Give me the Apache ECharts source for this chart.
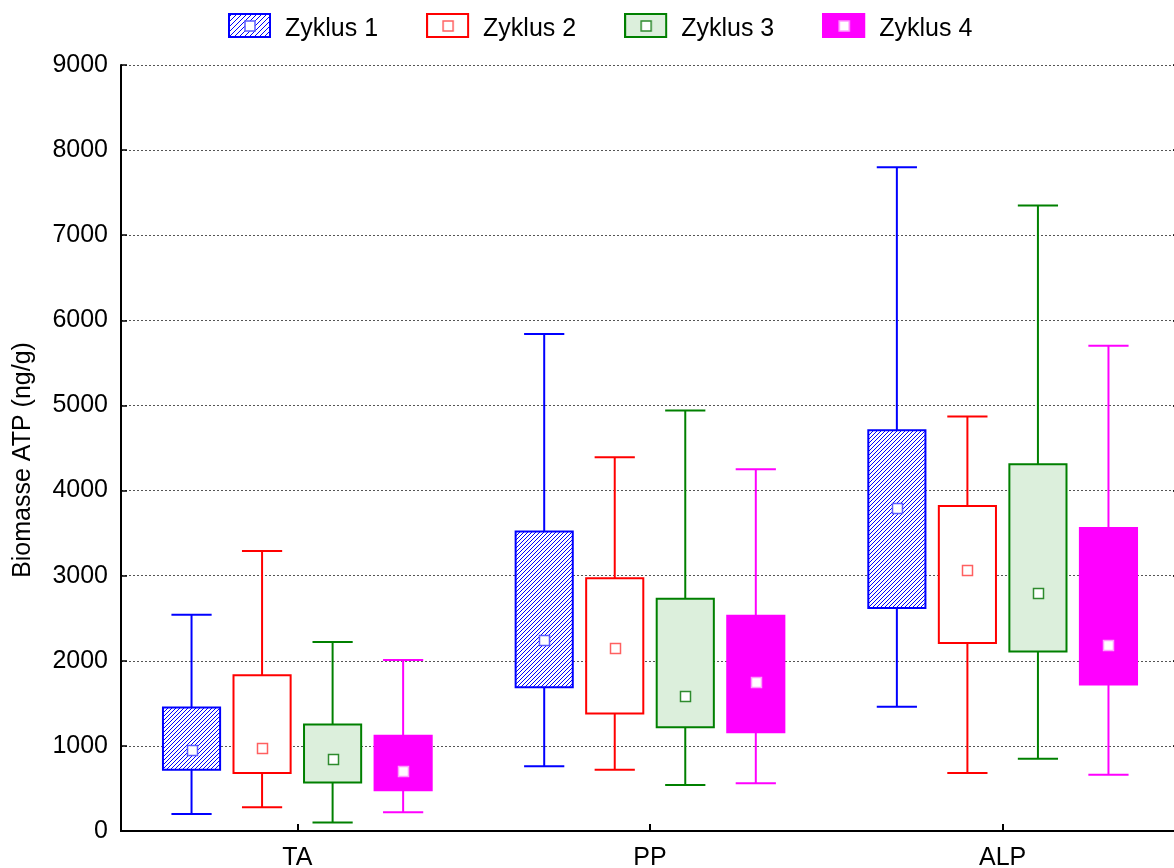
<!DOCTYPE html>
<html>
<head>
<meta charset="utf-8">
<title>Biomasse ATP</title>
<script src="https://cdn.jsdelivr.net/npm/echarts@6/dist/echarts.min.js"></script>
<style>
  html, body { margin: 0; padding: 0; background: #fff; }
  #chart { width: 1174px; height: 868px; }
</style>
</head>
<body>
<div id="chart"></div>
<script>
// Sampling sites on the category axis
const categories = ['TA', 'PP', 'ALP'];
const seriesNames = ['Zyklus 1', 'Zyklus 2', 'Zyklus 3', 'Zyklus 4'];
const yTicks = [0, 1000, 2000, 3000, 4000, 5000, 6000, 7000, 8000, 9000];

// One row per site: [whisker low, box low, centre, box high, whisker high] in ng/g
const zyklus1 = [
  [200, 720, 950, 1450, 2540],
  [760, 1690, 2250, 3520, 5840],
  [1460, 2620, 3800, 4710, 7800]
];
const zyklus2 = [
  [280, 680, 970, 1830, 3290],
  [720, 1380, 2150, 2970, 4390],
  [680, 2210, 3070, 3820, 4870]
];
const zyklus3 = [
  [100, 570, 850, 1250, 2220],
  [540, 1220, 1590, 2730, 4940],
  [850, 2110, 2800, 4310, 7350]
];
const zyklus4 = [
  [220, 480, 710, 1120, 2010],
  [560, 1160, 1750, 2530, 4250],
  [660, 1720, 2190, 3560, 5700]
];
const allSeries = [zyklus1, zyklus2, zyklus3, zyklus4];

// ---- fills ----
// crisp one-pixel "/" hatching on white
function makeHatch(color, size) {
  const c = document.createElement('canvas');
  c.width = size; c.height = size;
  const ctx = c.getContext('2d');
  ctx.fillStyle = '#ffffff';
  ctx.fillRect(0, 0, size, size);
  ctx.fillStyle = color;
  for (let i = 0; i < size; i++) {
    ctx.fillRect(i, size - 1 - i, 1, 1);
  }
  return c;
}
const hatchCanvas = makeHatch('#0000ff', 4);

const styles = [
  { color: '#0000ff', fill: { image: hatchCanvas, repeat: 'repeat' }, fillCss: null, marker: '#5a5aff' },
  { color: '#ff0000', fill: '#ffffff', fillCss: '#ffffff', marker: '#ff6060' },
  { color: '#008000', fill: '#dcefdc', fillCss: '#dcefdc', marker: '#2e8b2e' },
  { color: '#ff00ff', fill: '#ff00ff', fillCss: '#ff00ff', marker: '#ff9cff' }
];

// ---- legend icons: framed swatch with a small centre square ----
// the icon canvas is taller than the swatch so the label sits a little lower
const ICON_W = 52, ICON_H = 33, SWATCH_W = 43, SWATCH_H = 25;
function legendIcon(i) {
  const st = styles[i];
  const c = document.createElement('canvas');
  c.width = ICON_W; c.height = ICON_H;
  const ctx = c.getContext('2d');
  if (st.fillCss) {
    ctx.fillStyle = st.fillCss;
  } else {
    ctx.fillStyle = ctx.createPattern(makeHatch(st.color, 5), 'repeat');
  }
  ctx.fillRect(1, 1, SWATCH_W - 2, SWATCH_H - 2);
  ctx.strokeStyle = st.color;
  ctx.lineWidth = 2;
  ctx.strokeRect(1, 1, SWATCH_W - 2, SWATCH_H - 2);
  const m = 10;
  const mx = Math.round(SWATCH_W / 2 - m / 2), my = Math.round(SWATCH_H / 2 - m / 2);
  ctx.fillStyle = '#ffffff';
  ctx.fillRect(mx, my, m, m);
  ctx.strokeStyle = st.marker;
  ctx.lineWidth = 1.5;
  ctx.strokeRect(mx, my, m, m);
  return 'image://' + c.toDataURL('image/png');
}

// ---- box-and-whisker glyph for one site of one cycle ----
function renderItem(params, api) {
  const cat = api.value(0);
  const band = api.size([1, 0])[0];
  const cx = api.coord([cat, 0])[0] + (params.seriesIndex - 1.5) * band * 0.2;
  const py = (dim) => api.coord([cat, api.value(dim)])[1];
  const yLow = py(1), yQ1 = py(2), yMid = py(3), yQ3 = py(4), yHigh = py(5);
  const boxW = band * 0.162, capW = band * 0.114, m = 10;
  const st = styles[params.seriesIndex];
  const seg = (x1, y1, x2, y2) => ({
    type: 'line',
    shape: { x1: x1, y1: y1, x2: x2, y2: y2 },
    style: { stroke: st.color, lineWidth: 2 }
  });
  return {
    type: 'group',
    children: [
      seg(cx, yQ3, cx, yHigh),
      seg(cx, yQ1, cx, yLow),
      seg(cx - capW / 2, yHigh, cx + capW / 2, yHigh),
      seg(cx - capW / 2, yLow, cx + capW / 2, yLow),
      {
        type: 'rect',
        shape: { x: cx - boxW / 2, y: yQ3, width: boxW, height: yQ1 - yQ3 },
        style: { fill: st.fill, stroke: st.color, lineWidth: 2 }
      },
      {
        type: 'rect',
        shape: { x: Math.round(cx - m / 2) + 0.5, y: Math.round(yMid - m / 2) + 0.5, width: m, height: m },
        style: { fill: '#ffffff', stroke: st.marker, lineWidth: 1.5 }
      }
    ]
  };
}

const FONT = '"Liberation Sans", Arial, sans-serif';
const chart = echarts.init(document.getElementById('chart'), null, { renderer: 'canvas' });

chart.setOption({
  animation: false,
  backgroundColor: '#ffffff',
  textStyle: { fontFamily: FONT, color: '#000' },
  legend: {
    left: 228,
    top: 13,
    padding: 0,
    itemWidth: ICON_W,
    itemHeight: ICON_H,
    itemGap: 48,
    textStyle: { fontSize: 25, fontFamily: FONT, color: '#000' },
    data: seriesNames.map((n, i) => ({ name: n, icon: legendIcon(i) }))
  },
  grid: { left: 121, right: -5, top: 65, bottom: 37, containLabel: false, outerBoundsMode: 'none' },
  xAxis: [
    {
      type: 'category',
      data: categories,
      boundaryGap: true,
      axisLine: { show: true, lineStyle: { color: '#000', width: 2 } },
      axisTick: { show: true, inside: true, alignWithLabel: true, length: 7, lineStyle: { color: '#000', width: 2 } },
      axisLabel: { fontSize: 25, fontFamily: FONT, color: '#000', margin: 15 },
      splitLine: { show: false }
    },
    {
      type: 'category',
      position: 'top',
      data: categories,
      axisLine: { show: true, lineStyle: { color: '#000', width: 2 } },
      axisTick: { show: false },
      axisLabel: { show: false },
      splitLine: { show: false }
    }
  ],
  yAxis: [
    {
      type: 'value',
      min: yTicks[0],
      max: yTicks[yTicks.length - 1],
      interval: 1000,
      name: 'Biomasse ATP (ng/g)',
      nameLocation: 'middle',
      nameGap: 85,
      nameTextStyle: { fontSize: 25, fontFamily: FONT, color: '#000', padding: [0, 24, 0, 0] },
      axisLine: { show: true, lineStyle: { color: '#000', width: 2 } },
      axisTick: { show: true, inside: true, length: 6, lineStyle: { color: '#000', width: 1.5 } },
      axisLabel: { fontSize: 25, fontFamily: FONT, color: '#000', margin: 13, formatter: (v) => String(v) },
      splitLine: { show: true, lineStyle: { color: '#555', width: 1, type: [2, 2] } }
    },
    {
      type: 'value',
      position: 'right',
      min: yTicks[0],
      max: yTicks[yTicks.length - 1],
      interval: 1000,
      axisLine: { show: true, lineStyle: { color: '#000', width: 2 } },
      axisTick: { show: true, inside: true, length: 6, lineStyle: { color: '#000', width: 1.5 } },
      axisLabel: { show: false },
      splitLine: { show: false }
    }
  ],
  series: allSeries.map((rows, i) => ({
    type: 'custom',
    name: seriesNames[i],
    xAxisIndex: 0,
    yAxisIndex: 0,
    renderItem: renderItem,
    encode: { x: 0, y: [1, 2, 3, 4, 5] },
    data: rows.map((r, c) => [c].concat(r))
  }))
});
</script>
</body>
</html>
